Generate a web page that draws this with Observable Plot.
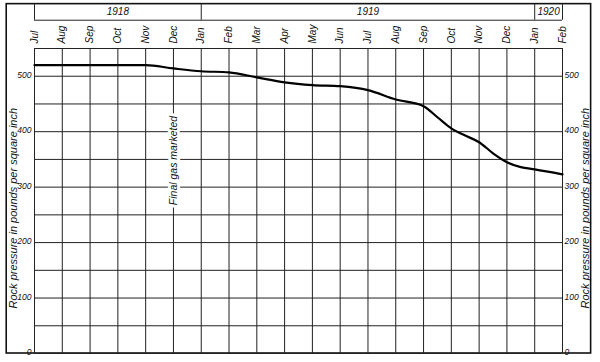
<!DOCTYPE html>
<html>
<head>
<meta charset="utf-8">
<script src="https://cdn.jsdelivr.net/npm/d3@7"></script>
<script src="https://cdn.jsdelivr.net/npm/@observablehq/plot@0.6"></script>
<style>
  html, body { margin: 0; padding: 0; background: #fff; }
  #chart svg { display: block; }
</style>
</head>
<body>
<div id="chart"></div>
<script>
// Month labels along the top (Jul 1918 .. Feb 1920), index = months since Jul 1918
const months = ["Jul","Aug","Sep","Oct","Nov","Dec","Jan","Feb","Mar","Apr","May","Jun","Jul","Aug","Sep","Oct","Nov","Dec","Jan","Feb"];
const monthIndex = months.map((d, i) => i);

// Year band
const yearLabels = ["1918", "1919", "1920"];
const yearStart = [0, 6, 18];
const yearEnd = [6, 18, 19];

// Rock pressure curve (lb per sq in)
const pressureMonth = [0, 1, 2, 3, 4, 5, 6, 7, 8, 9, 10, 11, 12, 13, 14, 14.5, 15, 15.5, 16, 16.5, 17, 17.5, 18, 19];
const pressure      = [520, 520, 520, 520, 520, 514, 509, 507, 498, 489, 484, 482, 475, 458, 446, 426, 406, 393, 381, 361, 345, 336, 332, 323];

// Axis ticks and grid
const yTicks = [0, 100, 200, 300, 400, 500];
const yGrid = [0, 50, 100, 150, 200, 250, 300, 350, 400, 450, 500, 550];
const yTitle = "Rock pressure in pounds per square inch";
const note = "Final gas marketed";
const noteMonth = 5;
const noteValue = 348;

const xMin = 0, xMax = 19, yTop = 550;
const bandBottom = 601, frameTop = 630;

const font = "'Liberation Sans', Arial, sans-serif";
const curve = pressureMonth.map((m, i) => ({m, p: pressure[i]}));
const years = yearLabels.map((label, i) => ({label, s: yearStart[i], e: yearEnd[i]}));

const chart = Plot.plot({
  width: 600,
  height: 362,
  marginLeft: 34,
  marginRight: 38,
  marginTop: 48,
  marginBottom: 9,
  style: {fontFamily: font, background: "#fff"},
  x: {domain: [xMin, xMax], axis: null},
  y: {domain: [0, yTop], axis: null},
  marks: [
    // outer frame
    Plot.rect([0], {x1: xMin - 1, x2: xMax + 1.03, y1: 0, y2: frameTop, fill: "none", stroke: "#111", strokeWidth: 1.6}),
    // grid
    Plot.ruleY(yGrid, {x1: xMin, x2: xMax, stroke: "#222", strokeWidth: 1, strokeOpacity: 1}),
    Plot.ruleX(monthIndex, {y1: 0, y2: yTop, stroke: "#222", strokeWidth: 1, strokeOpacity: 1}),
    // year band
    Plot.ruleY([bandBottom], {x1: xMin, x2: xMax, stroke: "#222", strokeWidth: 1}),
    Plot.ruleX([...yearStart, xMax], {y1: bandBottom, y2: frameTop, stroke: "#222", strokeWidth: 1}),
    Plot.text(years, {x: d => (d.s + d.e) / 2, y: (bandBottom + frameTop) / 2, text: "label", fontStyle: "italic", fontSize: 10, fill: "#111", letterSpacing: "0.5px"}),
    // month labels
    Plot.text(months, {x: (d, i) => i, y: yTop, text: d => d, rotate: -90, textAnchor: "start", dy: -5, fontStyle: "italic", fontSize: 10, fill: "#111"}),
    // y tick labels, left and right
    Plot.text(yTicks, {x: xMin, y: d => d, text: d => String(d), textAnchor: "end", dx: -3, dy: -1, fontStyle: "italic", fontSize: 8.5, fill: "#111"}),
    Plot.text(yTicks, {x: xMax, y: d => d, text: d => String(d), textAnchor: "start", dx: 2, dy: -1, fontStyle: "italic", fontSize: 8.5, fill: "#111"}),
    // y titles
    Plot.text([yTitle], {x: xMin, y: 262, text: d => d, rotate: -90, dx: -21, fontStyle: "italic", fontSize: 11, fill: "#111", letterSpacing: "0.6px"}),
    Plot.text([yTitle], {x: xMax, y: 262, text: d => d, rotate: -90, dx: 23, fontStyle: "italic", fontSize: 11, fill: "#111", letterSpacing: "0.6px"}),
    // annotation
    Plot.text([note], {x: noteMonth, y: noteValue, text: d => d, rotate: -90, fontStyle: "italic", fontSize: 10.5, fill: "#111", stroke: "#fff", strokeWidth: 6, letterSpacing: "0.4px"}),
    // pressure curve
    Plot.line(curve, {x: "m", y: "p", curve: "monotone-x", stroke: "#000", strokeWidth: 2.2})
  ]
});
document.getElementById("chart").appendChild(chart);
</script>
</body>
</html>
